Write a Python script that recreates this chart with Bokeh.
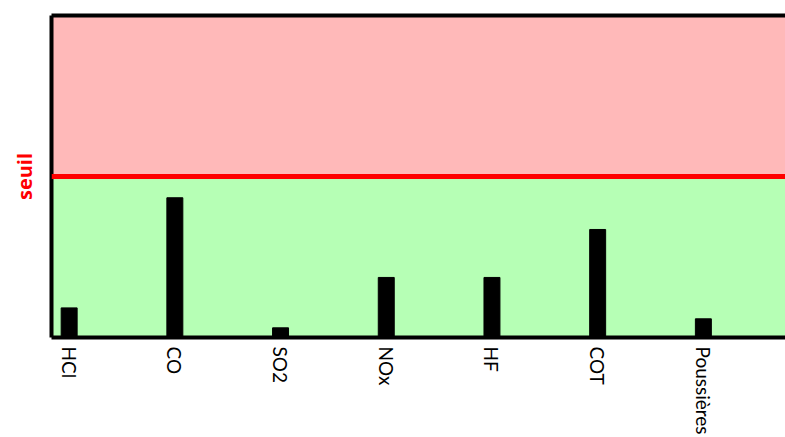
from math import pi
from bokeh.plotting import figure
from bokeh.models import FixedTicker, BoxAnnotation, Span, LinearAxis, Range1d
from bokeh.embed import file_html
from bokeh.resources import INLINE

categories = ["HCl", "CO", "SO2", "NOx", "HF", "COT", "Poussières"]
values = [0.184, 0.868, 0.060, 0.373, 0.373, 0.671, 0.116]
threshold = 1.0
threshold_label = "seuil"
y_max = 2.0

x = list(range(len(categories)))
x_start, x_end = -0.167, 6.777

p = figure(width=785, height=437, output_backend="svg", toolbar_location=None,
           x_range=Range1d(x_start, x_end), y_range=Range1d(0, y_max),
           min_border_left=51, min_border_right=0, min_border_top=15, min_border_bottom=100,
           x_axis_location=None, y_axis_location=None)
p.outline_line_color = None
p.background_fill_color = "white"
p.border_fill_color = "white"

# zones
p.add_layout(BoxAnnotation(top=threshold, fill_color="#B6FFB5", fill_alpha=1.0,
                           line_color=None, level="underlay"))
p.add_layout(BoxAnnotation(bottom=threshold, fill_color="#FFB9B9", fill_alpha=1.0,
                           line_color=None, level="underlay"))

p.vbar(x=x, top=values, width=0.151, bottom=0, fill_color="black", line_color="black")

p.add_layout(Span(location=threshold, dimension="width", line_color="#FF0000", line_width=5))

below = LinearAxis(ticker=FixedTicker(ticks=x),
                   major_label_overrides={i: c for i, c in zip(x, categories)})
below.major_label_orientation = -pi / 2
below.major_label_text_font = "Lato"
below.major_label_text_font_size = "19px"
below.major_label_text_color = "black"
below.major_label_standoff = 3
below.major_tick_line_color = None
below.minor_tick_line_color = None
below.axis_line_width = 4
below.axis_line_color = "black"
p.add_layout(below, "below")

left = LinearAxis(ticker=FixedTicker(ticks=[]), axis_label=threshold_label)
left.major_label_text_font_size = "0px"
left.major_tick_line_color = None
left.minor_tick_line_color = None
left.axis_line_width = 4
left.axis_line_color = "black"
left.axis_label_text_font = "Open Sans"
left.axis_label_text_font_style = "bold"
left.axis_label_text_font_size = "20px"
left.axis_label_text_color = "#FF0000"
left.axis_label_standoff = 14
p.add_layout(left, "left")

above = LinearAxis(ticker=FixedTicker(ticks=[]))
above.major_label_text_font_size = "0px"
above.major_tick_line_color = None
above.minor_tick_line_color = None
above.axis_line_width = 4
above.axis_line_color = "black"
p.add_layout(above, "above")

open("out.html", "w").write(file_html(p, INLINE))
